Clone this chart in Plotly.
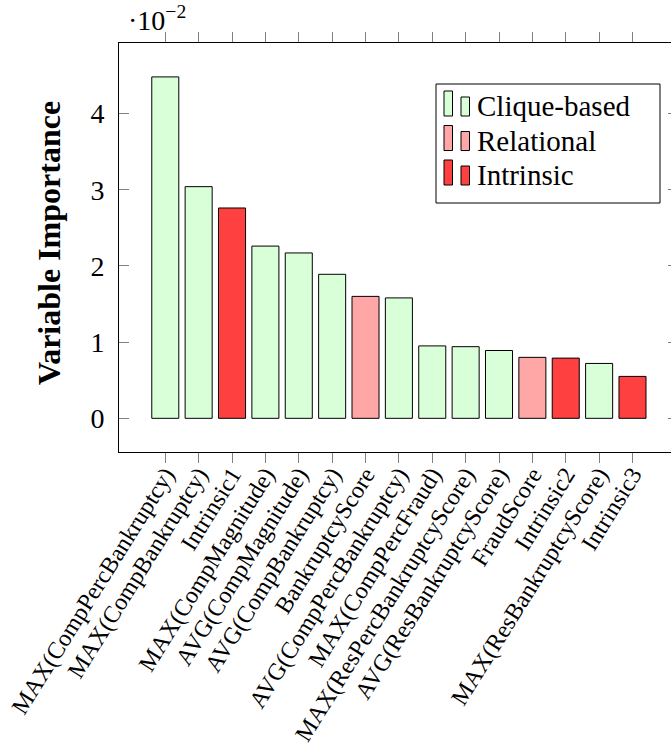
import plotly.graph_objects as go

# Variable importance (in units of 1e-2) per feature, ordered by rank
features = [
    "MAX(CompPercBankruptcy)", "MAX(CompBankruptcy)", "Intrinsic1",
    "MAX(CompMagnitude)", "AVG(CompMagnitude)", "AVG(CompBankruptcy)",
    "BankruptcyScore", "AVG(CompPercBankruptcy)", "MAX(CompPercFraud)",
    "MAX(ResPercBankruptcyScore)", "AVG(ResBankruptcyScore)", "FraudScore",
    "Intrinsic2", "MAX(ResBankruptcyScore)", "Intrinsic3",
]
importance = [4.48, 3.04, 2.76, 2.26, 2.17, 1.89, 1.60, 1.58,
              0.95, 0.94, 0.89, 0.80, 0.79, 0.72, 0.55]
feature_type = ["Clique-based", "Clique-based", "Intrinsic",
                "Clique-based", "Clique-based", "Clique-based",
                "Relational", "Clique-based", "Clique-based",
                "Clique-based", "Clique-based", "Relational",
                "Intrinsic", "Clique-based", "Intrinsic"]
groups = ["Clique-based", "Relational", "Intrinsic"]
group_colors = {"Clique-based": "#d9ffd9", "Relational": "#ffa6a6", "Intrinsic": "#ff4040"}
y_ticks = [0, 1, 2, 3, 4]
SCALE = 1e-2

W, H = 671, 754
PL, PR, PT, PB = 119, 671, 43, 452
FONT = "Liberation Serif"


def fx(p):
    return (p - PL) / (PR - PL)


def fy(p):
    return (PB - p) / (PB - PT)


fig = go.Figure()
for g in groups:
    xs = [f for f, t in zip(features, feature_type) if t == g]
    ys = [v * SCALE for v, t in zip(importance, feature_type) if t == g]
    fig.add_trace(go.Bar(
        x=xs, y=ys, width=0.81, name=g, showlegend=False,
        marker=dict(color=group_colors[g], line=dict(color="black", width=1)),
    ))

# right-side inner ticks
fig.add_trace(go.Scatter(x=[features[0]], y=[0], yaxis="y2", mode="markers",
                         marker=dict(opacity=0), showlegend=False, hoverinfo="skip"))

yr = [-0.442 * SCALE, 4.925 * SCALE]
fig.update_layout(
    width=W, height=H,
    margin=dict(l=PL, r=W - PR, t=PT, b=H - PB, pad=0),
    paper_bgcolor="white", plot_bgcolor="white",
    barmode="overlay",
    font=dict(family=FONT, size=26, color="black"),
    xaxis=dict(
        type="category", categoryorder="array", categoryarray=features,
        tickmode="array", tickvals=features, ticktext=features,
        range=[-1.387, 15.154], showgrid=False, zeroline=False, automargin=False,
        showline=True, linecolor="black", linewidth=1, mirror="ticks",
        ticks="outside", ticklen=10, tickcolor="#808080", tickwidth=1,
        tickangle=-58, tickfont=dict(family=FONT, size=24), ticklabelstandoff=-12,
    ),
    yaxis=dict(
        range=yr, showgrid=False, zeroline=False, automargin=False,
        showline=True, linecolor="black", linewidth=1,
        ticks="inside", ticklen=10, tickcolor="#808080", tickwidth=1,
        tickvals=[t * SCALE for t in y_ticks], ticktext=[str(t) for t in y_ticks],
        tickfont=dict(family=FONT, size=28), ticklabelstandoff=8,
    ),
    yaxis2=dict(
        range=yr, overlaying="y", side="right", showgrid=False, zeroline=False,
        showline=False, ticks="inside", ticklen=3, tickcolor="#808080", automargin=False,
        tickvals=[t * SCALE for t in y_ticks], showticklabels=False,
    ),
)

annotations = [
    dict(text="<b>Variable Importance</b>", textangle=-90, xref="paper", yref="paper",
         x=fx(49), y=fy(243), xanchor="center", yanchor="middle", showarrow=False,
         font=dict(family=FONT, size=32)),
    dict(text="·10<sup>−2</sup>", xref="paper", yref="paper", x=fx(126), y=fy(38),
         xanchor="left", yanchor="bottom", showarrow=False,
         font=dict(family=FONT, size=28)),
]

shapes = [dict(type="rect", xref="paper", yref="paper", x0=fx(436), x1=fx(660),
               y0=fy(203), y1=fy(84), line=dict(color="black", width=1),
               fillcolor="white", layer="above")]
baselines = [116, 150.5, 185]
for g, base in zip(groups, baselines):
    c = group_colors[g]
    shapes.append(dict(type="rect", xref="paper", yref="paper", x0=fx(444), x1=fx(452.5),
                       y0=fy(base), y1=fy(base - 25), fillcolor=c,
                       line=dict(color="black", width=1), layer="above"))
    shapes.append(dict(type="rect", xref="paper", yref="paper", x0=fx(461), x1=fx(469.5),
                       y0=fy(base), y1=fy(base - 19), fillcolor=c,
                       line=dict(color="black", width=1), layer="above"))
    annotations.append(dict(text=g, xref="paper", yref="paper", x=fx(475), y=fy(base - 10),
                            xanchor="left", yanchor="middle", showarrow=False,
                            font=dict(family=FONT, size=29)))

fig.update_layout(shapes=shapes, annotations=annotations)
fig.write_html("out.html")
